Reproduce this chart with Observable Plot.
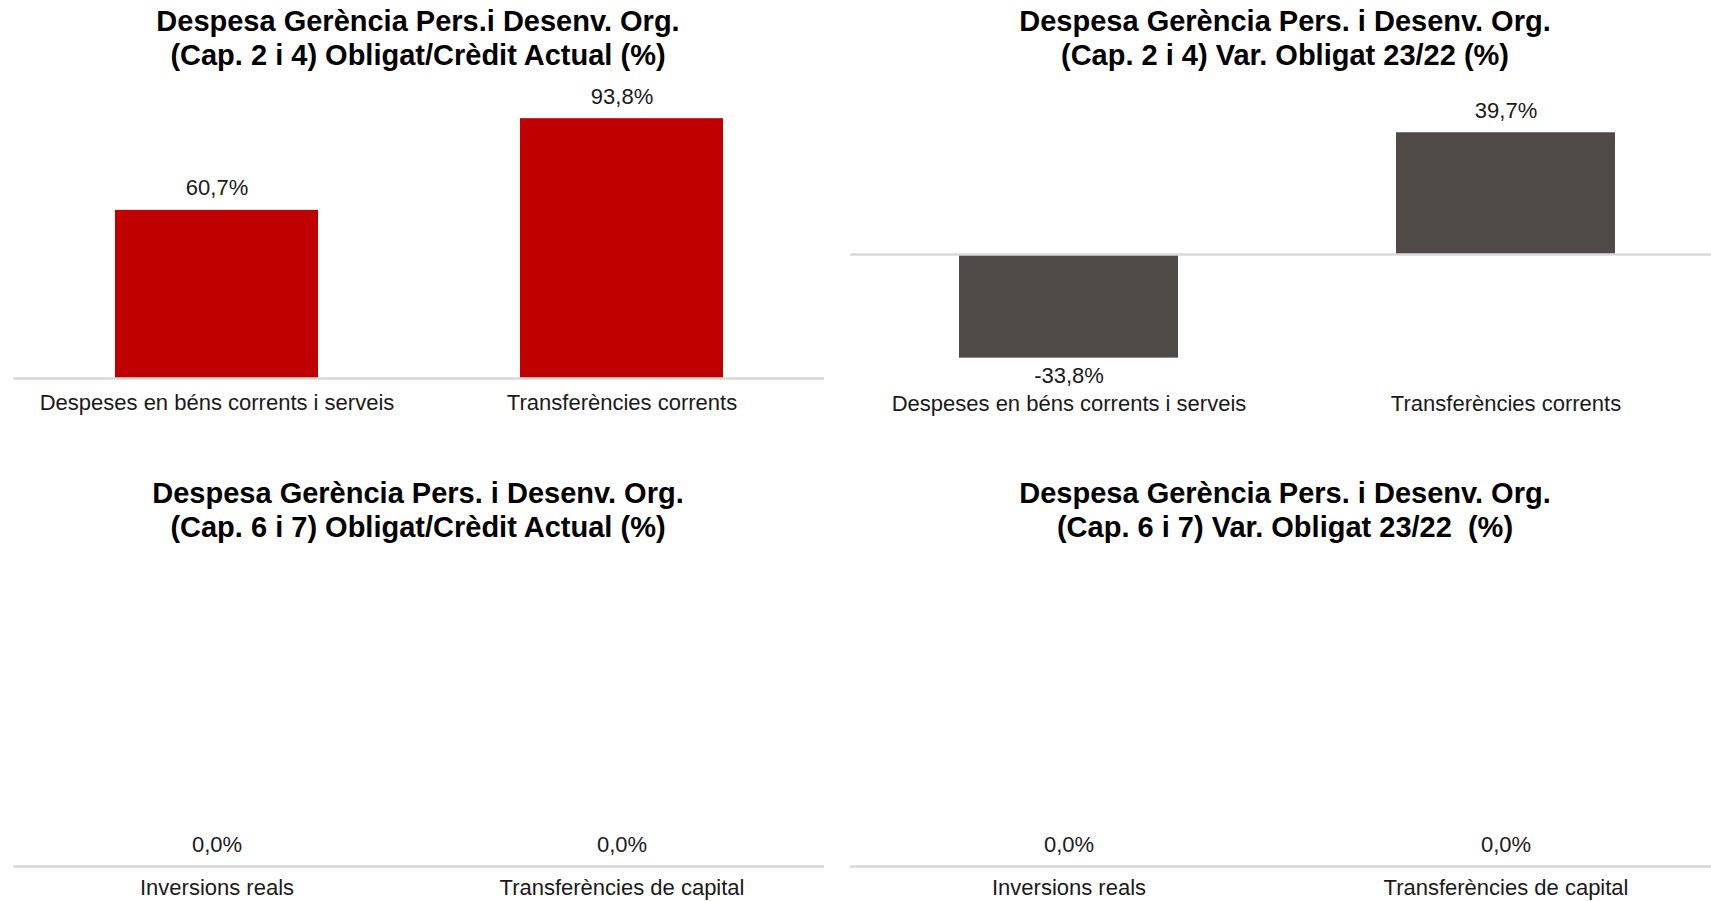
<!DOCTYPE html>
<html><head><meta charset="utf-8">
<script src="https://cdn.jsdelivr.net/npm/d3@7"></script>
<script src="https://cdn.jsdelivr.net/npm/@observablehq/plot@0.6"></script>
<style>
html,body{margin:0;padding:0;background:#fff;width:1711px;height:901px;overflow:hidden;font-family:"Liberation Sans",Arial,sans-serif;}
.panel{position:absolute;}
.title{position:absolute;width:900px;font-weight:bold;font-size:29px;line-height:33.5px;text-align:center;color:#000;white-space:pre;}
</style></head><body>
<div id="root"></div>
<script>
// ---- data ----
const catsCap24 = ["Despeses en béns corrents i serveis", "Transferències corrents"];
const catsCap67 = ["Inversions reals", "Transferències de capital"];
const obligatCredit24 = [60.7, 93.8];
const varObligat24 = [-33.8, 39.7];
const obligatCredit67 = [0.0, 0.0];
const varObligat67 = [0.0, 0.0];
const titleTL = ["Despesa Gerència Pers.i Desenv. Org.", "(Cap. 2 i 4) Obligat/Crèdit Actual (%)"];
const titleTR = ["Despesa Gerència Pers. i Desenv. Org.", "(Cap. 2 i 4) Var. Obligat 23/22 (%)"];
const titleBL = ["Despesa Gerència Pers. i Desenv. Org.", "(Cap. 6 i 7) Obligat/Crèdit Actual (%)"];
const titleBR = ["Despesa Gerència Pers. i Desenv. Org.", "(Cap. 6 i 7) Var. Obligat 23/22  (%)"];
const RED = "#c00000";
const GREY = "#4f4a48";

const fmt = v => v.toFixed(1).replace(".", ",") + "%";
const root = document.getElementById("root");

function addTitle(lines, cx, top) {
  const d = document.createElement("div");
  d.className = "title";
  d.style.left = (cx - 450) + "px";
  d.style.top = top + "px";
  d.textContent = lines.join("\n");
  root.appendChild(d);
}

function panel(o) {
  const data = o.cats.map((c, i) => ({cat: c, value: o.values[i]}));
  const chart = Plot.plot({
    width: o.width,
    height: o.height,
    marginLeft: o.marginLeft,
    marginRight: o.marginRight,
    marginTop: o.marginTop,
    marginBottom: o.marginBottom,
    style: {fontFamily: '"Liberation Sans", Arial, sans-serif', fontSize: "22px", color: "#1a1a1a", background: "transparent", overflow: "visible"},
    x: {domain: o.cats, range: o.xRange, paddingInner: 0.5, paddingOuter: 0.25, label: null},
    y: {domain: o.yDomain, axis: null},
    marks: [
      Plot.barY(data, {x: "cat", y: "value", fill: o.color}),
      Plot.ruleY([0], {stroke: "#d9d9d9", strokeWidth: 2.5}),
      Plot.text(data.filter(d => d.value >= 0), {x: "cat", y: "value", text: d => fmt(d.value), lineAnchor: "bottom", dy: -15, fontSize: 22, fill: "#1a1a1a"}),
      Plot.text(data.filter(d => d.value < 0), {x: "cat", y: "value", text: d => fmt(d.value), lineAnchor: "top", dy: 9, fontSize: 22, fill: "#1a1a1a"}),
      Plot.axisX({tickSize: 0, tickPadding: o.tickPadding, label: null, fill: "#1a1a1a"})
    ]
  });
  const wrap = document.createElement("div");
  wrap.className = "panel";
  wrap.style.left = o.left + "px";
  wrap.style.top = o.top + "px";
  wrap.appendChild(chart);
  root.appendChild(wrap);
}

// Top-left
addTitle(titleTL, 418, 5);
panel({left: 0, top: 70, width: 855, height: 360, marginLeft: 13, marginRight: 31, marginTop: 31, marginBottom: 52,
  xRange: [13, 824], cats: catsCap24, values: obligatCredit24, color: RED, yDomain: [0, 100], tickPadding: 16});

// Top-right
addTitle(titleTR, 1285, 5);
panel({left: 850, top: 70, width: 861, height: 360, marginLeft: 0, marginRight: 0, marginTop: 46, marginBottom: 38,
  xRange: [0, 874], cats: catsCap24, values: varObligat24, color: GREY, yDomain: [-45, 45], tickPadding: 3});

// Bottom-left
addTitle(titleBL, 418, 477);
panel({left: 0, top: 560, width: 855, height: 341, marginLeft: 13, marginRight: 31, marginTop: 31, marginBottom: 35,
  xRange: [13, 824], cats: catsCap67, values: obligatCredit67, color: RED, yDomain: [0, 100], tickPadding: 13});

// Bottom-right
addTitle(titleBR, 1285, 477);
panel({left: 850, top: 560, width: 861, height: 341, marginLeft: 0, marginRight: 0, marginTop: 31, marginBottom: 35,
  xRange: [0, 874], cats: catsCap67, values: varObligat67, color: GREY, yDomain: [0, 100], tickPadding: 13});
</script>
</body></html>
